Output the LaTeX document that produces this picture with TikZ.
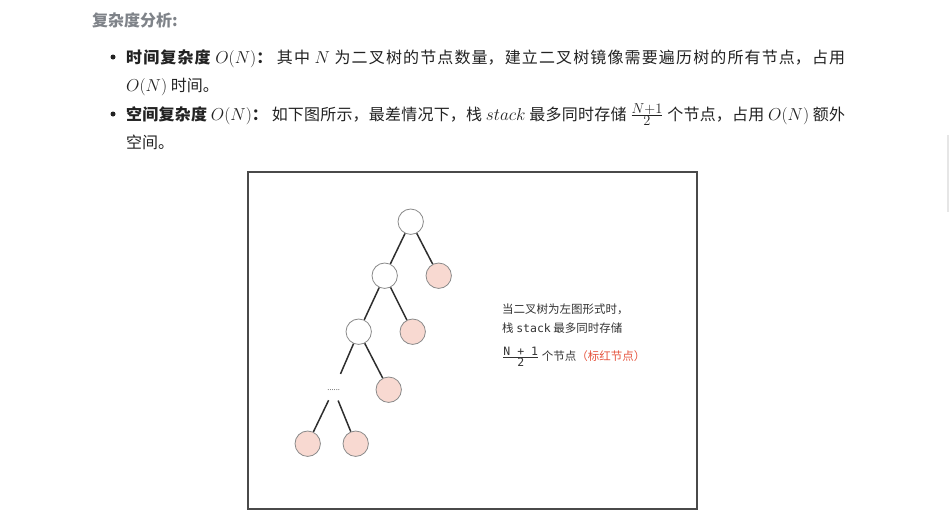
\documentclass[tikz,border=0pt]{standalone}
\usepackage{fontspec}
\setmainfont{Noto Sans CJK SC}
\setmonofont{DejaVu Sans Mono}
\usetikzlibrary{positioning}
\XeTeXlinebreaklocale "zh"
\XeTeXlinebreakskip=0pt plus 2pt
\setlength{\parindent}{0pt}

\definecolor{bodytext}{HTML}{222222}
\definecolor{headgray}{HTML}{7F8389}
\definecolor{notetext}{HTML}{333333}
\definecolor{markred}{HTML}{E5533D}
\definecolor{nodepink}{HTML}{F8D9D1}
\definecolor{circgray}{HTML}{8A8A8A}
\definecolor{dotgray}{HTML}{555555}
\definecolor{linegray}{HTML}{2E2E2E}
\definecolor{framegray}{HTML}{4A4A4A}
\definecolor{scrollgray}{HTML}{E6E6E6}

% math a little larger than the text around it
\newcommand{\mth}[1]{{\fontsize{17}{19}\selectfont$#1$}}
\newcommand{\frc}[2]{{\fontsize{19}{19}\selectfont$\frac{#1}{#2}$}}

\begin{document}
\begin{tikzpicture}[x=1pt, y=-1pt, node distance=54pt and 26pt, on grid,
    tnode/.style={circle, draw=circgray, line width=0.8pt, minimum size=25.4pt, inner sep=0pt},
    emptynode/.style={tnode, fill=white},
    rednode/.style={tnode, fill=nodepink},
    dotsnode/.style={circle, minimum size=23pt, inner sep=0pt, text=dotgray, font=\fontsize{7.5}{7.5}\selectfont},
    branch/.style={draw=linegray, line width=1.5pt},
    bodyline/.style={anchor=base west, inner sep=0pt, text=bodytext, font=\fontsize{16}{19}\selectfont},
    fullline/.style={bodyline, text width=719pt, align=justify},
    note/.style={anchor=base west, inner sep=0pt, text=notetext, font=\fontsize{11.5}{13}\selectfont},
    bullet/.style={circle, fill=bodytext, minimum size=5pt, inner sep=0pt}]

    \useasboundingbox (0,0) rectangle (949,522);
    \fill [scrollgray] (946.5,135) rectangle (949,212);

    % Text above the figure
    \node [anchor=base west, inner sep=0pt, text=headgray, font=\fontsize{16}{19}\selectfont\bfseries]
        (head) at (92,26) {复杂度分析:};
    \node [bullet] (b1) at (113,57) {};
    \node [fullline] (t1) at (126,63)
        {\parfillskip=0pt \textbf{时间复杂度} \mth{O(N)}\textbf{：} 其中 \mth{N} 为二叉树的节点数量，建立二叉树镜像需要遍历树的所有节点，占用\par};
    \node [bodyline] (t2) at (126,91.5) {\mth{O(N)} 时间。};
    \node [bullet] (b2) at (113,114) {};
    \node [fullline] (t3) at (126,120)
        {\parfillskip=0pt \textbf{空间复杂度} \mth{O(N)}\textbf{：} 如下图所示，最差情况下，栈 \mth{stack} 最多同时存储 \frc{N+1}{2} 个节点，占用 \mth{O(N)} 额外\par};
    \node [bodyline] (t4) at (126,148.5) {空间。};

    % Figure frame
    \draw [framegray, line width=1.2pt] (248,172) rectangle (697,509);

    % Nodes {root, l1, r1, l2, r2, dots, r3, ll, lr}
    \node [emptynode] (root) at (410.7,221.7)                   {};
    \node [emptynode] (l1)   [below left=54pt and 26pt of root]  {};
    \node [rednode]   (r1)   [below right=54pt and 28pt of root] {};
    \node [emptynode] (l2)   [below left=56pt and 26pt of l1]    {};
    \node [rednode]   (r2)   [below right=56pt and 28pt of l1]   {};
    \node [dotsnode]  (dots) [below left=58pt and 25pt of l2]    {......};
    \node [rednode]   (r3)   [below right=58pt and 30pt of l2]   {};
    \node [rednode]   (ll)   [below left=54pt and 26pt of dots]  {};
    \node [rednode]   (lr)   [below right=54pt and 22pt of dots] {};

    % Paths
    \path [branch] (root) edge (l1);
    \path [branch] (root) edge (r1);
    \path [branch] (l1)   edge (l2);
    \path [branch] (l1)   edge (r2);
    \path [branch] (l2)   edge [shorten >=5.5pt] (dots);
    \path [branch] (l2)   edge (r3);
    \path [branch] (dots) edge (ll);
    \path [branch] (dots) edge (lr);

    % Note on the right
    \node [note] (note1) at (502,313) {当二叉树为左图形式时，};
    \node [note] (note2) at (502,332) {栈 \texttt{stack} 最多同时存储};
    \node [note] (note3) at (502,360)
        {$\frac{\texttt{N + 1}}{\texttt{2}}$ 个节点\textcolor{markred}{（标红节点）}};
\end{tikzpicture}
\end{document}
